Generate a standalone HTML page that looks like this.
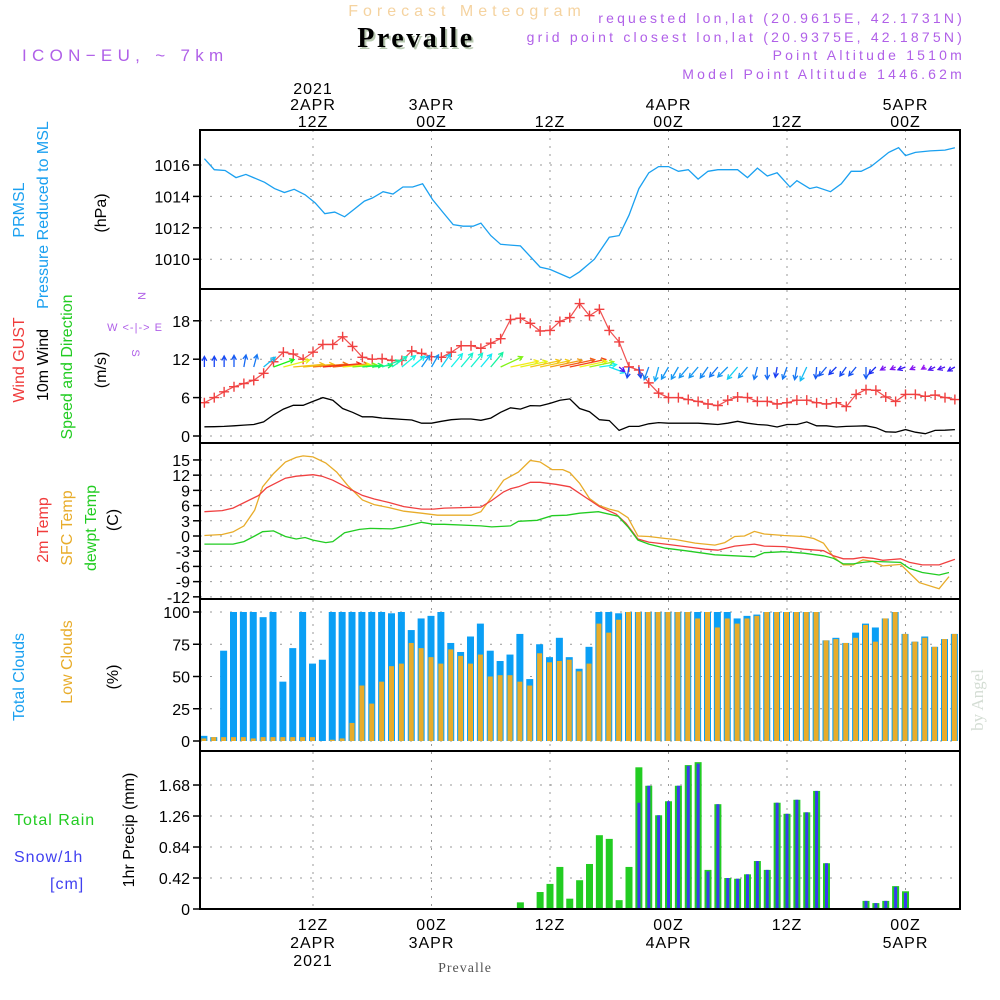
<!DOCTYPE html>
<html><head><meta charset="utf-8"><style>
html,body{margin:0;padding:0;background:#fff;}
svg{display:block;font-family:"Liberation Sans",sans-serif;}
</style></head><body>
<svg id="chart" width="1000" height="1000" viewBox="0 0 1000 1000" xmlns="http://www.w3.org/2000/svg">
<defs>
<clipPath id="c1"><rect x="200" y="130" width="760" height="159"/></clipPath>
<clipPath id="c2"><rect x="200" y="290" width="760" height="153"/></clipPath>
<clipPath id="c3"><rect x="200" y="444" width="760" height="154"/></clipPath>
<clipPath id="c4"><rect x="200" y="600" width="760" height="151"/></clipPath>
<clipPath id="c5"><rect x="200" y="752" width="760" height="157"/></clipPath>
</defs>
<text x="467" y="16" text-anchor="middle" font-size="16" fill="#f5d3a0" letter-spacing="5">Forecast Meteogram</text>
<text x="418" y="49" text-anchor="middle" font-size="28" font-weight="bold" font-family="Liberation Serif,serif" fill="#b8c8b0" letter-spacing="2.5">Prevalle</text>
<text x="416" y="47" text-anchor="middle" font-size="28" font-weight="bold" font-family="Liberation Serif,serif" fill="#000" letter-spacing="2.5">Prevalle</text>
<text x="22" y="61" font-size="17" fill="#b060e8" letter-spacing="5.3">ICON−EU, ~ 7km</text>
<g font-size="14" fill="#b060e8" text-anchor="end" letter-spacing="3.2">
<text x="965" y="23">requested lon,lat (20.9615E, 42.1731N)</text>
<text x="965" y="42">grid point closest lon,lat (20.9375E, 42.1875N)</text>
<text x="965" y="60">Point Altitude 1510m</text>
<text x="965" y="79">Model Point Altitude 1446.62m</text>
</g>
<g id="grid"></g>
<g id="marks"></g>
<g id="frames" fill="none" stroke="#000" stroke-width="2">
<rect x="200" y="130" width="760" height="779"/>
<line x1="200" y1="289" x2="960" y2="289"/>
<line x1="200" y1="443" x2="960" y2="443"/>
<line x1="200" y1="599" x2="960" y2="599"/>
<line x1="200" y1="751" x2="960" y2="751"/>
</g>
<g id="labels"></g>
<g font-size="16">
<text transform="translate(24,210) rotate(-90)" text-anchor="middle" fill="#1aa0f0">PRMSL</text>
<text transform="translate(48,215) rotate(-90)" text-anchor="middle" fill="#1aa0f0">Pressure Reduced to MSL</text>
<text transform="translate(106,213) rotate(-90)" text-anchor="middle" fill="#000">(hPa)</text>
<text transform="translate(24,360) rotate(-90)" text-anchor="middle" fill="#f03c3c">Wind GUST</text>
<text transform="translate(48,365) rotate(-90)" text-anchor="middle" fill="#000">10m Wind</text>
<text transform="translate(72,367) rotate(-90)" text-anchor="middle" fill="#22cc22">Speed and Direction</text>
<text transform="translate(106,370) rotate(-90)" text-anchor="middle" fill="#000">(m/s)</text>
<text transform="translate(48,530) rotate(-90)" text-anchor="middle" fill="#f03c3c">2m Temp</text>
<text transform="translate(72,528) rotate(-90)" text-anchor="middle" fill="#e8ac2a">SFC Temp</text>
<text transform="translate(96,528) rotate(-90)" text-anchor="middle" fill="#22cc22">dewpt Temp</text>
<text transform="translate(118,520) rotate(-90)" text-anchor="middle" fill="#000">(C)</text>
<text transform="translate(24,677) rotate(-90)" text-anchor="middle" fill="#1aa0f0">Total Clouds</text>
<text transform="translate(72,662) rotate(-90)" text-anchor="middle" fill="#e8ac2a">Low Clouds</text>
<text transform="translate(118,677) rotate(-90)" text-anchor="middle" fill="#000">(%)</text>
<text x="14" y="825" fill="#22cc22" letter-spacing="1">Total  Rain</text>
<text x="14" y="862" fill="#4040f0" letter-spacing="1">Snow/1h</text>
<text x="50" y="889" fill="#4040f0" letter-spacing="1">[cm]</text>
<text transform="translate(134,830) rotate(-90)" text-anchor="middle" fill="#000">1hr Precip (mm)</text>
</g>
<g fill="#b060e8" font-size="11">
<text transform="translate(138,296) rotate(90)" text-anchor="middle">N</text>
<text x="135" y="331" text-anchor="middle" letter-spacing="1">W &lt;-|-&gt; E</text>
<text transform="translate(132,353) rotate(90)" text-anchor="middle">S</text>
</g>
<text transform="translate(983,700) rotate(-90)" text-anchor="middle" font-size="17" font-family="Liberation Serif,serif" fill="#d4ddd4">by Angel</text>
<text x="465" y="972" text-anchor="middle" font-size="14" font-family="Liberation Serif,serif" fill="#555" letter-spacing="1">Prevalle</text>
</svg>
<script>
// ---- data ----
const pressHours=[1,2,3.1,4.2,5.2,7.1,8.1,9.1,10.1,11.2,12.2,13.2,14.2,15.2,16.2,17.2,18,19.1,20.1,21.1,22.1,23.1,24.1,25.2,26.2,27.2,28.2,29,30,31,32,33,35,36,38,39,40.5,42,43,44,45,46,47,48,49,50,51,52,53,55,56,57,58,59,60.3,61,62.3,63,64.4,65.5,66.5,67.5,68.5,69.5,70.3,71.3,72,73,74.5,76,77];
const pressVals=[1016.4,1015.7,1015.65,1015.2,1015.4,1014.9,1014.5,1014.25,1014.45,1014.1,1013.6,1012.9,1013.0,1012.7,1013.2,1013.7,1013.9,1014.3,1014.15,1014.6,1014.6,1014.8,1013.8,1012.95,1012.2,1012.1,1012.1,1012.3,1011.5,1010.95,1010.9,1010.85,1009.5,1009.35,1008.8,1009.2,1010.0,1011.4,1011.5,1012.8,1014.5,1015.5,1015.9,1015.9,1015.6,1015.7,1015.1,1015.6,1015.7,1015.7,1015.2,1015.8,1015.3,1015.5,1014.6,1015.0,1014.5,1014.6,1014.3,1014.8,1015.6,1015.6,1015.9,1016.4,1016.8,1017.1,1016.6,1016.8,1016.9,1016.95,1017.1];
const gustVals=[5.2,6.0,6.9,7.7,8.2,8.7,9.8,11.6,13.1,12.8,12.0,13.1,14.3,14.3,15.5,14.0,12.3,12.0,12.1,11.8,11.8,13.3,12.9,12.4,12.3,13.1,14.1,14.1,13.7,14.5,15.2,18.2,18.4,17.6,16.4,16.5,17.9,18.5,20.7,18.8,19.8,16.5,14.7,10.8,10.3,8.3,6.7,6.0,6.0,5.7,5.4,5.0,4.75,5.6,6.1,6.0,5.4,5.4,5.0,5.2,5.6,5.6,5.2,5.0,5.2,4.6,6.5,7.25,7.15,6.1,5.4,6.5,6.5,6.2,6.4,6.0,5.7];
const windVals=[1.43,1.45,1.5,1.6,1.7,1.8,2.2,3.3,4.2,4.8,4.8,5.4,6.0,5.6,4.3,3.7,3.0,3.0,2.8,2.7,2.6,2.5,2.0,2.0,2.3,2.55,2.65,2.65,2.45,2.8,3.7,4.4,4.2,4.75,4.7,5.1,5.6,5.8,4.3,3.8,2.55,2.4,0.87,1.5,1.5,1.9,2.1,2.0,2.0,2.0,2.0,1.9,1.8,2.0,2.3,2.0,1.8,1.7,1.4,1.8,1.8,2.2,1.6,1.6,1.4,1.5,1.55,1.6,1.3,0.66,0.6,1.0,0.6,0.36,0.87,0.9,1.0];
const windDir=[180,180,180,180,190,195,230,250,255,265,265,265,265,265,265,265,265,265,250,235,230,230,215,210,215,220,220,220,220,220,245,258,258,258,258,258,258,258,258,258,262,290,310,10,350,20,15,30,30,40,40,35,40,45,40,40,15,0,10,20,10,25,5,40,45,35,40,0,45,60,65,70,65,60,65,70,60];
const t2mHours=[1,2.8,3.9,6.5,7.3,9.2,10.3,12,12.9,14,15.5,17,18.2,19.7,21.2,23,24.2,25.3,29,30.1,31.3,32,32.8,34,35,36.6,38,40,41,42.7,43.7,44.9,46,47.7,49.7,51.7,53,54.7,56.7,57.7,59.7,61.7,63.7,64.7,65.7,66.7,67.7,68.7,69.7,71.5,72.4,73.7,75.4,76.4,77];
const t2mVals=[4.8,5.0,5.5,8,9.5,11.4,11.8,12.1,11.8,11,9.5,8,7.3,6.6,5.8,5.3,5.3,5.5,5.7,7,8.7,9.3,9.7,10.6,10.6,10.2,9.7,7.1,5.8,4.3,2.5,-0.6,-1.2,-1.6,-2.1,-2.6,-2.8,-2,-1.6,-2,-2.1,-2.6,-2.9,-3.9,-4.5,-4.5,-4.2,-4.4,-4.8,-4.5,-5.2,-5.7,-5.7,-5.0,-4.6];
const sfcHours=[1,2.8,3.9,5,6.1,6.9,8,9.2,10.3,11,12,13.3,14.4,15.5,17,18.2,19.7,21.2,23,24.6,28,29,30.1,31.3,32.8,34,35,36.2,37.3,38,39,40,41,42,42.9,43.9,44.9,46,47.7,48.7,50.7,52.7,53.7,54.7,55.7,56.7,57.7,59.7,61.7,62.7,63.7,64.7,65.7,66.7,67.7,68.7,69.7,71.5,72.4,73.4,75.4,76.4];
const sfcVals=[0.1,0.3,0.8,2.0,5.1,9.7,12.3,14.6,15.5,15.8,15.6,14.4,12.6,10,7.1,6.2,5.6,4.9,4.5,4.1,4.1,4.8,7.7,11,12.6,14.9,14.6,13.1,13.1,12.5,10.4,7.4,6,5.3,4.9,3.6,0,-0.1,-0.5,-0.7,-1.4,-1.8,-1.3,-0.1,0,0.9,0.4,0.1,-0.1,-0.5,-1.4,-4.1,-5.7,-5.7,-4.7,-5,-5.9,-5.6,-7.3,-9.2,-10.4,-8];
const dewHours=[1,3.9,5,6.1,6.9,8,9.2,10.3,11.2,12,13.3,14,15.2,16.7,17.8,20,21.5,23,24.2,25.3,29,30.1,32,32.8,34.7,36.2,37.7,39,40.9,42.9,43.9,44.9,46,47.7,49.7,52.7,56.7,57.7,59.7,61.7,63.7,64.7,65.7,66.7,67.7,68.7,71.5,72.4,73.7,75.4,76.4];
const dewVals=[-1.6,-1.6,-1.1,0,0.85,1.0,-0.1,-0.6,-0.3,-0.8,-1.3,-1.1,0.65,1.3,1.5,1.4,2,2.7,2.3,2.3,2.0,1.8,2,2.9,3.1,4.0,4.1,4.5,4.8,3.9,1.8,-0.8,-1.6,-2.4,-2.9,-3.7,-4.1,-3.3,-3.1,-3.4,-3.9,-4.4,-5.5,-5.5,-5.2,-5,-5.2,-6.4,-7.2,-7.7,-7.2];
const totalClouds=[4,3,70,100,100,100,96,100,46,72,100,60,63,100,100,100,100,100,100,99,100,86,95,97,100,76,69,81,91,70,62,67,83,48,75,65,80,65,56,73,100,100,99,100,100,100,100,100,100,100,100,100,100,100,95,97,98,100,100,100,100,100,100,78,80,76,84,91,88,95,100,83,77,81,73,79,83];
const lowClouds=[2,3,3,3,3,2,3,3,3,3,3,3,0,1,2,14,43,29,46,58,60,76,72,65,60,71,66,60,67,50,51,51,46,43,68,61,62,63,54,60,91,84,94,100,100,100,100,100,100,100,95,100,88,95,91,95,97,100,100,100,100,100,100,78,79,76,80,90,77,95,100,83,77,80,73,79,83];
const rainVals=[0,0,0,0,0,0,0,0,0,0,0,0,0,0,0,0,0,0,0,0,0,0,0,0,0,0,0,0,0,0,0,0,0.09,0,0.23,0.34,0.57,0.14,0.39,0.61,1.0,0.95,0.12,0.57,1.92,1.67,1.27,1.46,1.67,1.95,1.99,0.53,1.42,0.42,0.41,0.47,0.65,0.53,1.44,1.29,1.48,1.31,1.60,0.62,0,0,0,0.11,0.08,0.11,0.31,0.24,0,0,0,0,0];
const snowVals=[0,0,0,0,0,0,0,0,0,0,0,0,0,0,0,0,0,0,0,0,0,0,0,0,0,0,0,0,0,0,0,0,0,0,0,0,0,0,0,0,0,0,0,0,1.44,1.67,1.27,1.46,1.67,1.94,1.97,0.51,1.42,0.42,0.41,0.47,0.65,0.53,1.44,1.29,1.48,1.31,1.60,0.62,0,0,0,0.11,0.08,0.11,0.30,0.22,0,0,0,0,0];
const pressTicks=[1016,1014,1012,1010];
const windTicks=[18,12,6,0];
const tempTicks=[15,12,9,6,3,0,-3,-6,-9,-12];
const cloudTicks=[100,75,50,25,0];
const precipTicks=[1.68,1.26,0.84,0.42,0];
const timeTicks=[12,24,36,48,60,72];
const topLabels=[["2021","2APR","12Z"],["","3APR","00Z"],["","","12Z"],["","4APR","00Z"],["","","12Z"],["","5APR","00Z"]];
const botLabels=[["12Z","2APR","2021"],["00Z","3APR",""],["12Z","",""],["00Z","4APR",""],["12Z","",""],["00Z","5APR",""]];

// ---- scales ----
const NS="http://www.w3.org/2000/svg";
const X=t=>313+(t-12)*9.875;
const yP=v=>165+(1016-v)*15.7;
const yW=v=>436-v*6.4;
const yT=v=>536-v*5.07;
const yC=v=>741-v*1.29;
const yR=v=>909-v*73.8;
const grid=document.getElementById('grid'),marks=document.getElementById('marks'),labels=document.getElementById('labels');
function mk(tag,attrs,parent){const e=document.createElementNS(NS,tag);for(const k in attrs)e.setAttribute(k,attrs[k]);parent.appendChild(e);return e;}

const panels=[[130,289,pressTicks,yP],[290,443,windTicks,yW],[444,599,tempTicks,yT],[600,751,cloudTicks,yC],[752,909,precipTicks,yR]];
panels.forEach(([y0,y1,ticks,f],pi)=>{
  timeTicks.forEach(t=>{
    const l=mk('line',{x1:X(t),x2:X(t),y1:y0,y2:y1,stroke:'#999','stroke-dasharray':'2 6'},grid);
    
    
  });
  ticks.forEach(v=>{
    const y=f(v);
    const l=mk('line',{x1:200,x2:960,y1:y,y2:y,stroke:'#999','stroke-dasharray':'2 8'},grid);
    
    
    const tk=mk('line',{x1:193,x2:200,y1:y,y2:y,stroke:'#000','stroke-width':1.5},labels);
    
    
    const tx=mk('text',{x:190,y:y+6,'text-anchor':'end','font-size':16,fill:'#000'},labels);
    tx.textContent=String(v);
    
    
  });
});
timeTicks.forEach((t,i)=>{
  topLabels[i].forEach((s,j)=>{if(!s)return;
    const tx=mk('text',{x:X(t),y:[94,110,127][j],'text-anchor':'middle','font-size':16,'letter-spacing':1,fill:'#000'},labels);
    tx.textContent=s;
    
    
  });
  botLabels[i].forEach((s,j)=>{if(!s)return;
    const tx=mk('text',{x:X(t),y:[930,948,966][j],'text-anchor':'middle','font-size':16,'letter-spacing':1,fill:'#000'},labels);
    tx.textContent=s;
    
    
  });
});

function line(hours,vals,f,color,clip,name,w){
  const d=hours.map((t,i)=>(i?'L':'M')+X(t).toFixed(1)+','+f(vals[i]).toFixed(1)).join('');
  const p=mk('path',{d:d,fill:'none',stroke:color,'stroke-width':w||1.3,'clip-path':'url(#'+clip+')'},marks);
  
  
}
const hours=gustVals.map((_,i)=>i+1);
line(pressHours,pressVals,yP,'#1aa0f0','c1','pressure-line');
line(hours,windVals,yW,'#000','c2','wind-speed-line');
line(hours,gustVals,yW,'#f05050','c2','wind-gust-line',1.2);
hours.forEach((t,i)=>{
  const x=X(t),y=yW(gustVals[i]);
  const m=mk('path',{d:`M${x-5},${y}h10M${x},${y-5}v10`,stroke:'#f04040','stroke-width':1.4,'clip-path':'url(#c2)'},marks);
  
  
});
function windColor(s){
  const st=[[0.5,275],[1.4,230],[2,205],[2.6,175],[3,140],[4,70],[5,40],[6,5]];
  let h=st[0][1];
  for(let i=0;i<st.length-1;i++){if(s>=st[i][0]&&s<=st[i+1][0]){h=st[i][1]+(st[i+1][1]-st[i][1])*(s-st[i][0])/(st[i+1][0]-st[i][0]);}}
  if(s>6)h=5;
  return `hsl(${h},90%,52%)`;
}
hours.forEach((t,i)=>{
  const s=windVals[i],a=(windDir[i]+180)*Math.PI/180,L=6*s+2;
  const x0=X(t),y0=367,x1=x0+L*Math.sin(a),y1=y0-L*Math.cos(a);
  const ang=Math.atan2(y1-y0,x1-x0),hl=5;
  const hx1=x1-hl*Math.cos(ang-0.5),hy1=y1-hl*Math.sin(ang-0.5),hx2=x1-hl*Math.cos(ang+0.5),hy2=y1-hl*Math.sin(ang+0.5);
  const p=mk('path',{d:`M${x0},${y0}L${x1},${y1}M${hx1},${hy1}L${x1},${y1}L${hx2},${hy2}`,fill:'none',stroke:windColor(s),'stroke-width':1.3,'clip-path':'url(#c2)'},marks);
  
  
});
line(sfcHours,sfcVals,yT,'#e8ac2a','c3','sfc-temp-line');
line(t2mHours,t2mVals,yT,'#f04040','c3','2m-temp-line');
line(dewHours,dewVals,yT,'#22cc22','c3','dewpoint-line');
hours.forEach((t,i)=>{
  const x=X(t);
  const b=mk('rect',{x:x-4,y:yC(totalClouds[i]),width:7,height:yC(0)-yC(totalClouds[i]),fill:'#0a9ff5','clip-path':'url(#c4)'},marks);
  
  
  const l=mk('rect',{x:x-3,y:yC(lowClouds[i]),width:5,height:yC(0)-yC(lowClouds[i]),fill:'#e8ac2a','clip-path':'url(#c4)'},marks);
  
  
  if(rainVals[i]>0){
    const r=mk('rect',{x:x-3.5,y:yR(rainVals[i]),width:7,height:yR(0)-yR(rainVals[i]),fill:'#22cc22','clip-path':'url(#c5)'},marks);
    
    
  }
  if(snowVals[i]>0){
    const s=mk('rect',{x:x-1.5,y:yR(snowVals[i]),width:3,height:yR(0)-yR(snowVals[i]),fill:'#3a3af0','clip-path':'url(#c5)'},marks);
    
    
  }
});
</script>
</body></html>
